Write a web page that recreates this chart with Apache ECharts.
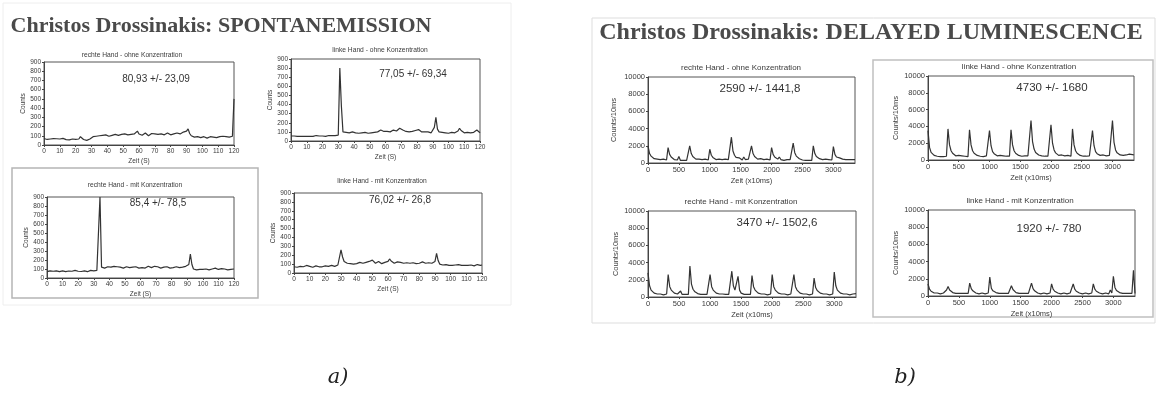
<!DOCTYPE html>
<html><head><meta charset="utf-8">
<script src="https://cdn.jsdelivr.net/npm/echarts@6/dist/echarts.min.js"></script>
<style>html,body{margin:0;padding:0;background:#fff}#c{width:1158px;height:415px}</style>
</head><body><div id="c"></div>
<script>
// ---------- DATA ----------
const panelTitles = ["Christos Drossinakis: SPONTANEMISSION", "Christos Drossinakis: DELAYED LUMINESCENCE"];
const panelLabels = ["a)", "b)"];
const chartTitles = [
  "rechte Hand - ohne Konzentration", "linke Hand - ohne Konzentration",
  "rechte Hand - mit Konzentration", "linke Hand - mit Konzentration",
  "rechte Hand - ohne Konzentration", "linke Hand - ohne Konzentration",
  "rechte Hand - mit Konzentration", "linke Hand - mit Konzentration"
];
const statTexts = [
  "80,93 +/- 23,09", "77,05 +/- 69,34", "85,4 +/- 78,5", "76,02 +/- 26,8",
  "2590 +/- 1441,8", "4730 +/- 1680", "3470 +/- 1502,6", "1920 +/- 780"
];
// Spontanemission: counts per second, t = 0..120 s
const spontRechteOhne = [
  70,65,60,70,65,60,70,75,68,62, 65,70,72,60,58,62,55,60,65,60,
  62,70,65,90,75,60,55,50,52,65, 75,90,100,95,90,100,95,105,100,110,
  100,95,110,105,100,115,110,105,100,115, 110,120,105,110,125,115,110,120,130,150,
  120,110,105,120,130,110,100,115,125,110, 120,130,115,105,120,135,110,120,130,115,
  110,125,120,105,130,115,120,110,140,150, 150,175,125,100,95,85,80,90,85,80,
  85,90,80,75,85,90,80,85,95,80, 85,90,80,95,85,90,100,85,80,95, 500
];
const spontLinkeOhne = [
  55,50,55,45,50,55,50,45,50,55, 50,55,50,45,50,55,60,50,55,50,
  55,60,50,55,60,55,60,65,60,70, 65,800,380,100,85,95,100,90,95,100,
  95,90,100,85,95,90,100,95,90,85, 95,90,100,95,105,100,110,120,100,105,
  110,105,115,100,110,120,130,110,120,140, 150,120,100,105,95,100,110,105,120,115,
  110,125,105,100,95,100,110,100,95,90, 100,150,260,130,100,90,95,100,90,95,
  85,90,95,100,90,95,110,140,115,95, 90,85,95,100,90,85,95,100,120,110, 90
];
const spontRechteMit = [
  70,75,80,70,75,72,80,75,70,75, 80,75,70,72,78,70,75,80,85,80,
  75,70,72,78,80,75,70,80,85,75, 80,75,85,75,900,120,115,110,120,125,
  110,120,105,130,115,125,110,120,115,110, 120,125,110,115,105,120,110,125,115,110,
  120,115,125,110,120,130,125,115,120,130, 115,125,120,110,130,120,115,125,120,110,
  120,115,110,125,120,115,110,120,135,130, 140,150,265,150,100,95,90,100,95,90,
  95,90,100,95,90,105,100,95,110,100, 95,90,105,115,100,95,90,100,95,105, 100
];
const spontLinkeMit = [
  70,75,65,70,75,80,70,75,85,70, 75,70,65,70,80,75,70,65,70,75,
  80,70,75,80,85,80,75,85,90,95, 260,180,130,120,110,100,105,95,100,110,
  105,110,120,115,110,125,120,140,130,120, 145,125,110,120,130,115,105,110,120,115,
  130,158,135,115,110,120,125,110,120,115, 110,120,115,105,110,120,115,110,105,120,
  110,115,125,120,110,105,115,120,110,115, 130,220,140,100,95,90,85,95,90,85,
  90,85,80,90,85,95,90,85,80,85, 90,85,95,90,85,80,90,95,90,85, 90
];
// Delayed luminescence: counts/10ms, one sample every 25 x10ms, t = 0..3350
const lumRechteOhne = [
  2000,1100,800,600,500,350,450,300,400,300,450,300,350,
  1800,1000,700,550,400,500,350,750,300,400,300,450,300,350,
  2000,1100,750,550,450,350,450,300,400,300,450,300,350,
  1600,900,650,500,400,300,450,300,400,350,450,300,400,300,
  3000,1400,900,650,500,600,400,350,700,400,300,450,350,
  2000,1100,750,550,450,400,500,350,400,300,450,300,350,
  1800,1000,700,550,450,700,400,350,300,450,400,300,400,300,
  2300,1200,800,600,500,400,350,450,300,400,300,450,300,
  2000,1100,750,600,500,450,400,350,450,300,400,300,350,
  1900,1000,700,550,600,500,450,500,400,450,400,450,400,350,400
];
const lumLinkeOhne = [
  3500,1500,900,700,550,500,450,500,400,450,400,500,450,
  3700,1800,1100,800,600,500,450,550,450,500,400,450,500,400,
  3600,1800,1100,800,650,550,500,450,500,400,450,500,400,
  3500,1700,1000,750,600,500,450,550,450,500,400,450,500,450,
  3600,1800,1100,800,650,550,500,450,550,500,450,500,450,
  4700,2200,1300,900,700,600,550,500,550,450,500,450,500,
  4200,2000,1200,850,650,550,500,600,450,500,450,550,500,450,
  3700,1800,1100,800,650,550,500,450,500,450,550,500,450,
  3500,1700,1000,750,600,550,500,600,550,500,600,550,500,
  4700,2100,1200,850,700,600,650,550,700,600,650,700,600,650,600
];
const lumRechteMit = [
  2800,1300,800,600,450,400,350,300,350,300,250,300,350,
  2600,1200,800,600,450,400,350,300,700,300,350,300,250,300,
  3600,1500,900,650,500,400,350,300,350,300,250,300,350,
  2600,1200,800,600,450,400,350,300,350,250,300,350,300,250,
  3000,1300,800,600,2400,800,450,350,300,350,300,250,300,
  2500,1200,800,600,450,400,350,300,350,300,250,300,350,
  2600,1200,800,600,450,400,350,300,350,300,250,300,350,300,
  2600,1200,800,600,450,400,350,300,350,300,250,300,350,
  2200,1100,750,550,450,400,350,300,350,300,250,300,350,
  2900,1300,800,600,450,400,350,300,350,300,250,300,350,300,400
];
const lumLinkeMit = [
  1400,800,550,450,350,300,350,300,250,300,350,300,700,
  1100,700,500,400,350,300,250,300,350,300,250,300,350,300,
  1500,850,600,450,350,300,250,300,350,300,250,300,350,
  2200,900,600,450,400,350,300,250,300,350,300,250,300,350,
  1200,750,550,400,350,300,250,300,350,300,250,300,350,
  1500,850,600,450,350,300,250,300,350,300,250,300,350,
  1400,800,550,450,350,300,250,300,350,300,250,300,350,300,
  1400,800,550,450,350,300,250,300,350,300,250,300,350,
  1400,800,550,450,350,300,250,300,350,300,250,700,350,
  2300,1000,650,500,400,350,300,350,300,250,300,350,300,3000,300
];
const SPONT_STEP = 1;   // s per sample
const LUM_STEP = 25;    // x10ms per sample

// ---------- LAYOUT ----------
const grids = [
  {left:44, top:62, width:190, height:83},
  {left:291, top:59, width:189, height:82},
  {left:47, top:197, width:187, height:81},
  {left:294, top:193, width:188, height:80},
  {left:648, top:77, width:207, height:86},
  {left:928, top:76, width:206, height:84},
  {left:648, top:211, width:208, height:86},
  {left:928, top:210, width:207, height:86}
];
const titlePos = [[132,55],[380,50],[135,185],[382,181],[741,68],[1019,67],[741,202],[1020,201]];
const statPos = [[156,79],[413,74],[158,203],[400,200],[760,89],[1052,88],[777,223],[1049,229]];
const lumNameGap = [30,26,26,26];

const spontData = [spontRechteOhne, spontLinkeOhne, spontRechteMit, spontLinkeMit];
const lumData = [lumRechteOhne, lumLinkeOhne, lumRechteMit, lumLinkeMit];

const TXT = '#3a3a3a';
const plain = v => String(v);
const xAxes = [], yAxes = [], series = [];
grids.forEach((g, i) => {
  const isSpont = i < 4;
  const fs = isSpont ? 6.5 : 7.5;
  xAxes.push({
    type:'value', gridIndex:i, min:0, max: isSpont ? 120 : 3350, interval: isSpont ? 10 : 500,
    axisLine:{onZero:false, lineStyle:{color:'#444', width:1}},
    axisTick:{length:2, lineStyle:{color:'#444'}},
    axisLabel:{fontSize:fs, margin:3, color:TXT, fontFamily:'Liberation Sans', showMaxLabel: isSpont, formatter: plain},
    splitLine:{show:false},
    name: isSpont ? 'Zeit (S)' : 'Zeit (x10ms)', nameLocation:'middle', nameGap: isSpont ? 13 : 14,
    nameTextStyle:{fontSize:fs, color:TXT, fontFamily:'Liberation Sans'}
  });
  yAxes.push({
    type:'value', gridIndex:i, min:0, max: isSpont ? 900 : 10000, interval: isSpont ? 100 : 2000,
    axisLine:{show:true, lineStyle:{color:'#444', width:1}},
    axisTick:{show:true, length:2, lineStyle:{color:'#444'}},
    axisLabel:{fontSize:fs, margin:3, color:TXT, fontFamily:'Liberation Sans', formatter: plain},
    splitLine:{show:false},
    name: isSpont ? 'Counts' : 'Counts/10ms', nameLocation:'middle', nameRotate:90,
    nameGap: isSpont ? 17 : lumNameGap[i-4],
    nameTextStyle:{fontSize:fs, color:TXT, fontFamily:'Liberation Sans'}
  });
  const vals = isSpont ? spontData[i] : lumData[i-4];
  const step = isSpont ? SPONT_STEP : LUM_STEP;
  series.push({
    type:'line', xAxisIndex:i, yAxisIndex:i, showSymbol:false, animation:false,
    lineStyle:{color:'#333', width: isSpont ? 1.2 : 1.2}, clip:true,
    data: vals.map((v,k) => [k*step, v])
  });
});

const graphic = [
  {type:'rect', shape:{x:3, y:3, width:508, height:302}, style:{fill:'none', stroke:'#eeeeee', lineWidth:1}, z:-10},
  {type:'rect', shape:{x:592, y:18, width:563, height:305}, style:{fill:'none', stroke:'#dddddd', lineWidth:1}, z:-10},
  {type:'rect', shape:{x:12, y:168, width:246, height:130}, style:{fill:'none', stroke:'#b5b5b5', lineWidth:1.5}, z:-5},
  {type:'rect', shape:{x:873, y:60, width:280, height:257}, style:{fill:'none', stroke:'#c0c0c0', lineWidth:1.5}, z:-5},
  {type:'text', x:221, y:26, style:{text:panelTitles[0], fill:'#4a4a4a', font:'bold 22px "Liberation Serif"', align:'center', verticalAlign:'middle'}},
  {type:'text', x:871, y:33, style:{text:panelTitles[1], fill:'#4a4a4a', font:'bold 24px "Liberation Serif"', align:'center', verticalAlign:'middle'}},
  {type:'text', x:338, y:378, style:{text:panelLabels[0], fill:'#222', font:'italic 21px "DejaVu Serif"', align:'center', verticalAlign:'middle'}},
  {type:'text', x:905, y:378, style:{text:panelLabels[1], fill:'#222', font:'italic 21px "DejaVu Serif"', align:'center', verticalAlign:'middle'}}
];
chartTitles.forEach((t,i) => {
  graphic.push({type:'text', x:titlePos[i][0], y:titlePos[i][1], style:{text:t, fill:TXT, font:(i<4?'6.7px':'8px')+' "Liberation Sans"', align:'center', verticalAlign:'middle'}});
});
statTexts.forEach((t,i) => {
  graphic.push({type:'text', x:statPos[i][0], y:statPos[i][1], style:{text:t, fill:'#333', font:(i<4?'10px':'11.5px')+' "Liberation Sans"', align:'center', verticalAlign:'middle'}});
});

const chart = echarts.init(document.getElementById('c'), null, {renderer:'canvas'});
chart.setOption({
  animation:false,
  backgroundColor:'#ffffff',
  grid: grids.map(g => Object.assign({show:true, borderColor:'#555', borderWidth:1, containLabel:false}, g)),
  xAxis: xAxes, yAxis: yAxes, series, graphic
});
</script></body></html>
